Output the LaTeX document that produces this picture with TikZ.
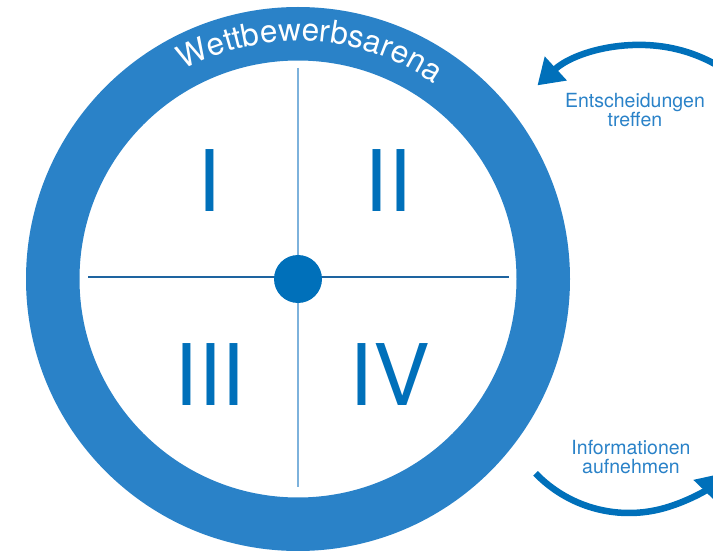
\documentclass[tikz,border=0pt]{standalone}
\usepackage{fontspec}
\setmainfont{TeX Gyre Heros}
\usetikzlibrary{arrows.meta, decorations.text, positioning}

\definecolor{arenablue}{RGB}{42,130,200}
\definecolor{coreblue}{RGB}{0,112,186}
\definecolor{axislight}{RGB}{125,178,220}
\definecolor{axisdark}{RGB}{30,100,160}
\newcommand{\arenafont}{\fontsize{31.5}{31.5}\selectfont}

\begin{document}
\begin{tikzpicture}[
    x=1pt, y=1pt,
    >={Triangle[length=25pt, width=31pt]},
    numeral/.style={text=coreblue, font=\fontsize{85}{85}\selectfont, inner sep=0pt, anchor=base},
    cyclelabel/.style={text=arenablue, font=\fontsize{19.5}{19}\selectfont, align=center, inner sep=0pt},
    turn/.style={draw=coreblue, line width=6.5pt, ->}
]
    \useasboundingbox (0,0) rectangle (713,550);
    \clip (0,0) rectangle (713,550);

    % Arena ring
    \coordinate (C) at (298,271);
    \fill[arenablue, even odd rule] (C) circle[radius=272] (C) circle[radius=218.5];
    \path[decorate, decoration={text along path, text={|\arenafont|Wettbewerbsarena},
        text align=center, text color=white}]
        ([shift={(146.9:238)}]C) arc[start angle=146.9, end angle=26.9, radius=238];

    % Quadrant axes
    \coordinate (west) at (88,273);
    \coordinate (east) at (509,273);
    \coordinate (north) at (298,482);
    \coordinate (south) at (298,63);
    \draw[axisdark, line width=1.3pt] (west) -- (east);
    \draw[axislight, line width=1.7pt] (north) -- (south);
    \node[circle, fill=coreblue, minimum size=48pt, inner sep=0pt] (hub) at (C) {};

    % Quadrant numerals
    \node[numeral] (q1) at (209,338) {I};
    \node[numeral] (q2) at (388,338) {II};
    \node[numeral] (q3) at (210,145) {III};
    \node[numeral] (q4) at (390,145) {IV};

    % Decision cycle
    \coordinate (Ctop) at (641,352);
    \coordinate (Cbot) at (629,167);
    \coordinate (topstart) at ([shift={(20:153)}]Ctop);
    \coordinate (botstart) at ([shift={(224:130)}]Cbot);
    \draw[turn] (topstart) arc[start angle=20, end angle=132.6, radius=153];
    \draw[turn] (botstart) arc[start angle=224, end angle=316, radius=130];
    \node[cyclelabel] (decide) at (635,440.4) {Entscheidungen\\treffen};
    \node[cyclelabel] (inform) at (631,92.7) {Informationen\\aufnehmen};
\end{tikzpicture}
\end{document}
